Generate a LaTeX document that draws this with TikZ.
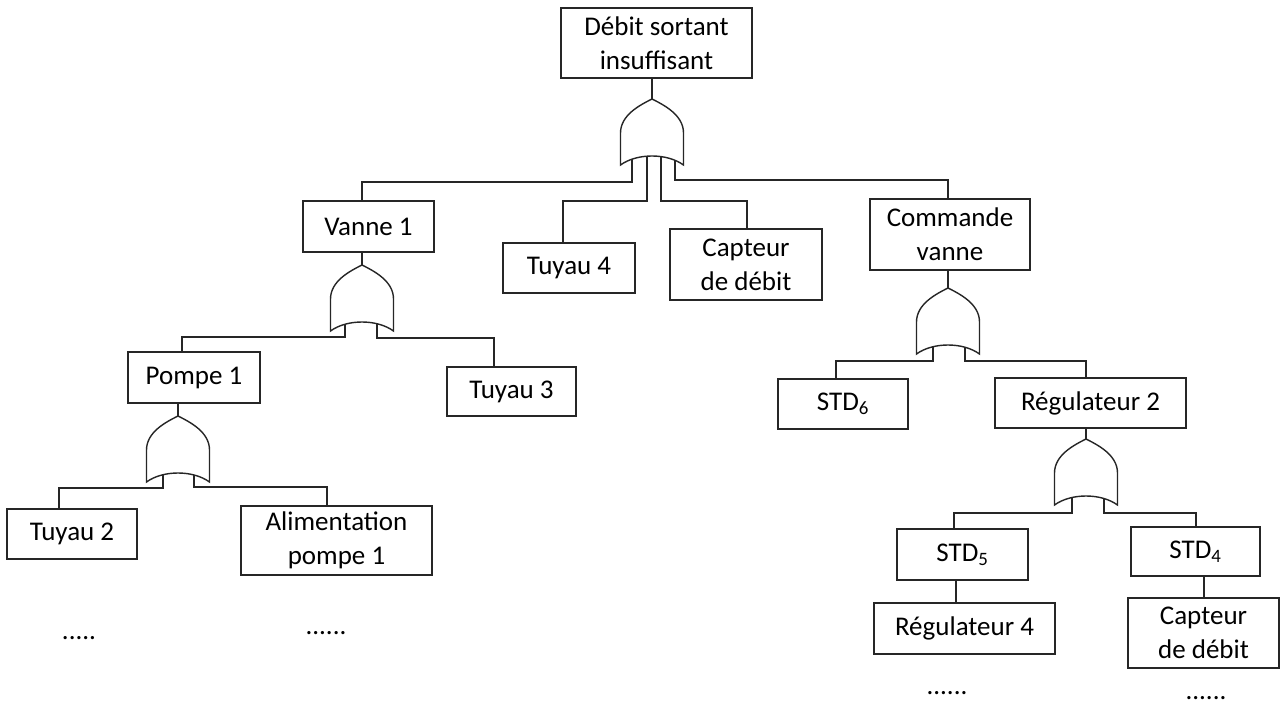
\documentclass[tikz,border=0pt]{standalone}
\usepackage{fontspec}
\setmainfont{Carlito}
\usetikzlibrary{calc}
\tikzset{
  ln/.style={line width=1.4pt, draw=black!85},
  box/.style={draw=black!85, line width=1.4pt, inner sep=0pt, align=center,
    font=\fontsize{27}{34}\selectfont},
  dots/.style={inner sep=0pt, anchor=base, font=\fontsize{27}{34}\selectfont},
  orgate/.pic={
    \draw[ln, fill=white] (0,0) .. controls (-12,6) and (-31.5,16) .. (-31.5,34)
      -- (-31.5,66) .. controls (-15,54) and (15,54) .. (31.5,66)
      -- (31.5,34) .. controls (31.5,16) and (12,6) .. (0,0) -- cycle;
  }
}
\begin{document}
\begin{tikzpicture}[x=1pt,y=-1pt]
\useasboundingbox (0,0) rectangle (1282,706);

% boxes
\node[box, minimum width=191, minimum height=70] (b0) at (656.5,43) {Débit sortant\\insuffisant};
\node[box, minimum width=131, minimum height=51] (b1) at (368.5,226.5) {Vanne 1};
\node[box, minimum width=132, minimum height=50] (b2) at (569,268) {Tuyau 4};
\node[box, minimum width=152, minimum height=71] (b3) at (746,264.5) {Capteur\\de débit};
\node[box, minimum width=160, minimum height=71] (b4) at (950,234.5) {Commande\\vanne};
\node[box, minimum width=132, minimum height=51] (b5) at (194,377.5) {Pompe 1};
\node[box, minimum width=129, minimum height=49] (b6) at (511.5,391.5) {Tuyau 3};
\node[box, minimum width=130, minimum height=50] (b7) at (843,404) {STD\textsubscript{6}};
\node[box, minimum width=191, minimum height=50] (b8) at (1090.5,403) {Régulateur 2};
\node[box, minimum width=130, minimum height=50] (b9) at (72,534) {Tuyau 2};
\node[box, minimum width=191, minimum height=69] (b10) at (336.5,540.5) {Alimentation\\pompe 1};
\node[box, minimum width=131, minimum height=51] (b11) at (962.5,554.5) {STD\textsubscript{5}};
\node[box, minimum width=129, minimum height=49] (b12) at (1195.5,551.5) {STD\textsubscript{4}};
\node[box, minimum width=181, minimum height=51] (b13) at (964.5,628.5) {Régulateur 4};
\node[box, minimum width=151, minimum height=70] (b14) at (1203.5,633) {Capteur\\de débit};

% dots
\node[dots] (d1) at (79,639) {.....};
\node[dots] (d2) at (326,634) {......};
\node[dots] (d3) at (947,694) {......};
\node[dots] (d4) at (1206,699) {......};

% gate positions (top points)
\coordinate (g1) at (652,99);
\coordinate (g2) at (362,265);
\coordinate (g3) at (178,416);
\coordinate (g4) at (948,288);
\coordinate (g5) at (1086,439);

% connectors
\draw[ln] (b0.south -| g1) -- (g1);
\draw[ln] ($(g1)+(-20,55)$) -- ++(0,28) -| ($(b1.north)+(-6.5,0)$);
\draw[ln] ($(g1)+(-5,55)$) -- ++(0,47) -| ($(b2.north)+(-6,0)$);
\draw[ln] ($(g1)+(9,55)$) -- ++(0,47) -| ($(b3.north)+(1,0)$);
\draw[ln] ($(g1)+(23,55)$) -- ++(0,26) -| ($(b4.north)+(-2,0)$);

\draw[ln] (b1.south -| g2) -- (g2);
\draw[ln] ($(g2)+(-17,52)$) -- ++(0,20) -| ($(b5.north)+(-12,0)$);
\draw[ln] ($(g2)+(15,52)$) -- ++(0,21) -| ($(b6.north)+(-17.5,0)$);

\draw[ln] (b5.south -| g3) -- (g3);
\draw[ln] ($(g3)+(-15,52)$) -- ++(0,20) -| ($(b9.north)+(-13,0)$);
\draw[ln] ($(g3)+(16,52)$) -- ++(0,19) -| ($(b10.north)+(-9.5,0)$);

\draw[ln] (b4.south -| g4) -- (g4);
\draw[ln] ($(g4)+(-15,52)$) -- ++(0,21) -| ($(b7.north)+(-7,0)$);
\draw[ln] ($(g4)+(17,52)$) -- ++(0,21) -| ($(b8.north)+(-4.5,0)$);

\draw[ln] (b8.south -| g5) -- (g5);
\draw[ln] ($(g5)+(-14,52)$) -- ++(0,22) -| ($(b11.north)+(-8.5,0)$);
\draw[ln] ($(g5)+(18,52)$) -- ++(0,22) -| ($(b12.north)+(0.5,0)$);

\draw[ln] ($(b11.south)+(-6.5,0)$) -- ($(b13.north)+(-8.5,0)$);
\draw[ln] ($(b12.south)+(8.5,0)$) -- ($(b14.north)+(0.5,0)$);

% OR gates
\pic at (g1) {orgate};
\pic at (g2) {orgate};
\pic at (g3) {orgate};
\pic at (g4) {orgate};
\pic at (g5) {orgate};
\end{tikzpicture}
\end{document}
